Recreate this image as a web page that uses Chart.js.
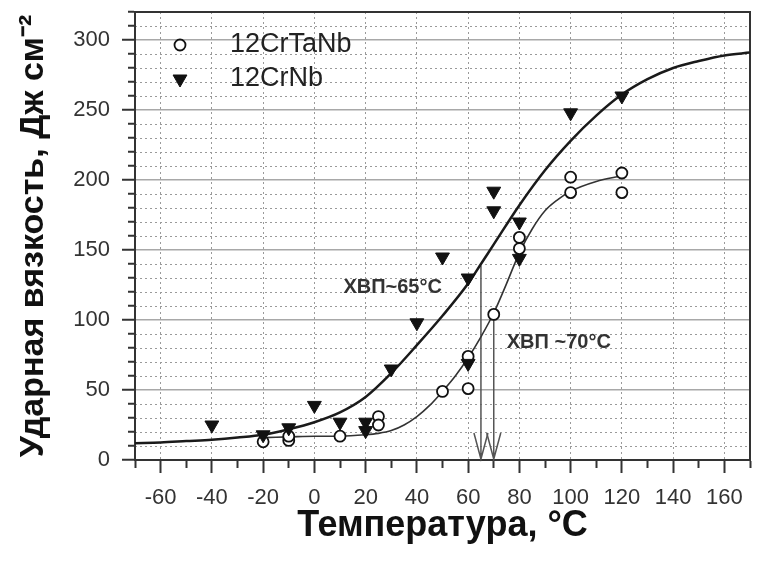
<!DOCTYPE html>
<html>
<head>
<meta charset="utf-8">
<script src="https://cdn.jsdelivr.net/npm/chart.js@4.4.1/dist/chart.umd.min.js"></script>
<style>
    html, body { margin: 0; padding: 0; background: #ffffff; }
</style>
</head>
<body>
<canvas id="graficoVzkost" width="759" height="571"></canvas>
<script>
// 12CrTaNb - кружки
var tempTaNb = [-20, -10, -10, 10, 25, 25, 50, 60, 60, 70, 80, 80, 100, 100, 120, 120];
var kcvTaNb = [13, 14, 17, 17, 31, 25, 49, 51, 74, 104, 159, 151, 202, 191, 205, 191];

// 12CrNb - треугольники
var tempNb = [-40, -20, -10, 0, 10, 20, 20, 30, 40, 50, 60, 60, 70, 70, 80, 80, 100, 120];
var kcvNb = [25, 18, 23, 39, 27, 27, 21, 65, 98, 145, 130, 69, 192, 178, 170, 144, 248, 260];

// аппроксимирующие кривые
var curvaNbX = [-70, -60, -50, -40, -30, -20, -10, 0, 10, 20, 30, 40, 50, 60, 65, 70, 80, 90, 100, 110, 120, 130, 140, 150, 160, 170];
var curvaNbY = [12, 12.5, 13.5, 14.5, 16, 18, 22, 27, 34, 45, 62, 82, 103, 126, 140, 154, 182, 207, 228, 246, 261, 272, 280, 285, 289, 291];

var curvaTaNbX = [-20, -10, 0, 10, 20, 25, 30, 35, 40, 45, 50, 55, 60, 65, 70, 75, 80, 85, 90, 95, 100, 110, 120];
var curvaTaNbY = [16, 16.5, 17, 17, 18, 19, 21, 25, 31, 39, 49, 60, 73, 88, 105, 126, 148, 165, 178, 186, 192, 199, 203];

// ХВП (температура, значение на кривой)
var hvpTemp = [65, 70];
var hvpValor = [139, 104];
var hvpTexto = ["ХВП~65°C", "ХВП ~70°C"];

var labelsSeries = ["12CrTaNb", "12CrNb"];

function pontos(xs, ys) {
    var lista = [];
    for (var i = 0; i < xs.length; i++) {
        lista.push({ x: xs[i], y: ys[i] });
    }
    return lista;
}

Chart.defaults.font.family = "'Liberation Sans', Arial, sans-serif";
Chart.defaults.color = "#333333";

// setas da ХВП, desenhadas sob os pontos
var setasPlugin = {
    id: "setasHvp",
    beforeDatasetsDraw: function (chart) {
        var ctx = chart.ctx;
        var sx = chart.scales.x;
        var sy = chart.scales.y;
        var base = sy.getPixelForValue(0);
        ctx.save();
        ctx.strokeStyle = "#555555";
        ctx.lineWidth = 1.5;
        for (var i = 0; i < hvpTemp.length; i++) {
            var px = sx.getPixelForValue(hvpTemp[i]);
            var topo = sy.getPixelForValue(hvpValor[i]);
            ctx.beginPath();
            ctx.moveTo(px, topo);
            ctx.lineTo(px, base - 1);
            ctx.moveTo(px - 7, base - 27);
            ctx.lineTo(px, base - 1);
            ctx.lineTo(px + 7, base - 27);
            ctx.stroke();
        }
        ctx.restore();
    },
    afterDatasetsDraw: function (chart) {
        var ctx = chart.ctx;
        var sx = chart.scales.x;
        var sy = chart.scales.y;
        var area = chart.chartArea;
        ctx.save();
        ctx.fillStyle = "#333333";
        ctx.font = "bold 20px 'Liberation Sans', Arial, sans-serif";
        ctx.textBaseline = "middle";
        ctx.textAlign = "right";
        ctx.fillText(hvpTexto[0], sx.getPixelForValue(hvpTemp[0]) - 39, sy.getPixelForValue(123));
        ctx.textAlign = "left";
        ctx.fillText(hvpTexto[1], sx.getPixelForValue(hvpTemp[1]) + 13, sy.getPixelForValue(84));

        // legenda dentro do gráfico
        var y = area.top + 33;
        ctx.font = "27px 'Liberation Sans', Arial, sans-serif";
        chart.data.datasets.forEach(function (ds) {
            if (!ds.naLegenda) return;
            var cx = area.left + 45;
            ctx.lineWidth = ds.borderWidth;
            ctx.strokeStyle = ds.borderColor;
            ctx.fillStyle = ds.backgroundColor;
            ctx.beginPath();
            if (ds.pointStyle === "circle") {
                ctx.arc(cx, y, ds.pointRadius, 0, Math.PI * 2);
            } else {
                var r = ds.pointRadius;
                ctx.moveTo(cx, y + r);
                ctx.lineTo(cx - r * 0.866, y - r / 2);
                ctx.lineTo(cx + r * 0.866, y - r / 2);
                ctx.closePath();
            }
            ctx.fill();
            ctx.stroke();
            ctx.fillStyle = "#222222";
            ctx.textAlign = "left";
            ctx.fillText(ds.label, area.left + 95, y);
            y += 34;
        });
        ctx.restore();
    }
};

new Chart(document.getElementById("graficoVzkost"), {
    type: "scatter",
    data: {
        datasets: [{
            label: labelsSeries[0],
            data: pontos(tempTaNb, kcvTaNb),
            pointStyle: "circle",
            pointRadius: 5.5,
            borderWidth: 1.8,
            borderColor: "#111111",
            backgroundColor: "#ffffff",
            naLegenda: true,
            order: 2,
            xAxisID: "x",
            yAxisID: "y"
        },
        {
            label: labelsSeries[1],
            data: pontos(tempNb, kcvNb),
            pointStyle: "triangle",
            rotation: 180,
            pointRadius: 8,
            borderWidth: 1,
            borderColor: "#111111",
            backgroundColor: "#111111",
            naLegenda: true,
            order: 1,
            xAxisID: "x",
            yAxisID: "y"
        },
        {
            label: "curva 12CrNb",
            data: pontos(curvaNbX, curvaNbY),
            showLine: true,
            pointRadius: 0,
            borderWidth: 2.5,
            borderColor: "#1a1a1a",
            cubicInterpolationMode: "monotone",
            order: 4,
            xAxisID: "x",
            yAxisID: "y"
        },
        {
            label: "curva 12CrTaNb",
            data: pontos(curvaTaNbX, curvaTaNbY),
            showLine: true,
            pointRadius: 0,
            borderWidth: 1.6,
            borderColor: "#333333",
            cubicInterpolationMode: "monotone",
            order: 3,
            xAxisID: "x",
            yAxisID: "y"
        }]
    },
    options: {
        responsive: false,
        animation: false,
        devicePixelRatio: 1,
        layout: { padding: { top: 12, right: 2, left: 0, bottom: 0 } },
        plugins: {
            legend: { display: false },
            tooltip: { enabled: false }
        },
        scales: {
            x: {
                type: "linear",
                position: "bottom",
                min: -70,
                max: 170,
                ticks: {
                    stepSize: 10,
                    autoSkip: false,
                    maxRotation: 0,
                    padding: 12,
                    color: "#333333",
                    font: { size: 22 },
                    callback: function (v) { return v % 20 === 0 ? v : ""; }
                },
                grid: {
                    color: function (c) { return c.tick && c.tick.value % 20 === 0 ? "#9a9a9a" : "rgba(0,0,0,0)"; },
                    lineWidth: 1,
                    tickColor: "#333333",
                    tickLength: 13,
                    tickWidth: 2,
                    tickBorderDash: function (c) { return c.tick && c.tick.value % 20 === 0 ? [] : [7, 100]; }
                },
                border: { color: "#333333", width: 2, dash: [2, 3] },
                title: {
                    display: true,
                    text: "Температура, °C",
                    color: "#111111",
                    font: { size: 36, weight: "bold" },
                    padding: { top: 0, bottom: 23 }
                },
                afterFit: function (s) {
                    s.height = 111;
                    s.paddingLeft = 0;
                    s.paddingRight = 0;
                }
            },
            y: {
                type: "linear",
                position: "left",
                min: 0,
                max: 320,
                ticks: {
                    stepSize: 10,
                    autoSkip: false,
                    padding: 12,
                    color: "#333333",
                    font: { size: 22 },
                    callback: function (v) { return v % 50 === 0 ? v : ""; }
                },
                grid: {
                    color: function (c) { return c.tick && c.tick.value % 50 === 0 ? "#a8a8a8" : "rgba(0,0,0,0)"; },
                    lineWidth: 1.5,
                    tickColor: "#333333",
                    tickLength: 13,
                    tickWidth: 2,
                    tickBorderDash: function (c) { return c.tick && c.tick.value % 50 === 0 ? [] : [0, 6, 7, 100]; }
                },
                border: { color: "#333333", width: 2 },
                title: {
                    display: true,
                    text: "Ударная вязкость, Дж см⁻²",
                    color: "#111111",
                    font: { size: 34, weight: "bold" },
                    padding: { top: 13, bottom: 0 }
                },
                afterFit: function (s) {
                    s.width = 135;
                    s.paddingTop = 0;
                    s.paddingBottom = 0;
                }
            },
            y2: {
                type: "linear",
                position: "right",
                min: 0,
                max: 320,
                ticks: { display: false, stepSize: 10 },
                grid: {
                    drawTicks: false,
                    color: function (c) { return c.tick && c.tick.value % 50 !== 0 ? "#9a9a9a" : "rgba(0,0,0,0)"; },
                    lineWidth: 1
                },
                border: { color: "#333333", width: 2, dash: [2, 3] }
            },
            x2: {
                type: "linear",
                position: "top",
                min: -70,
                max: 170,
                ticks: { display: false },
                grid: { display: false, drawTicks: false },
                border: { color: "#333333", width: 2 }
            }
        }
    },
    plugins: [setasPlugin]
});
</script>
</body>
</html>
